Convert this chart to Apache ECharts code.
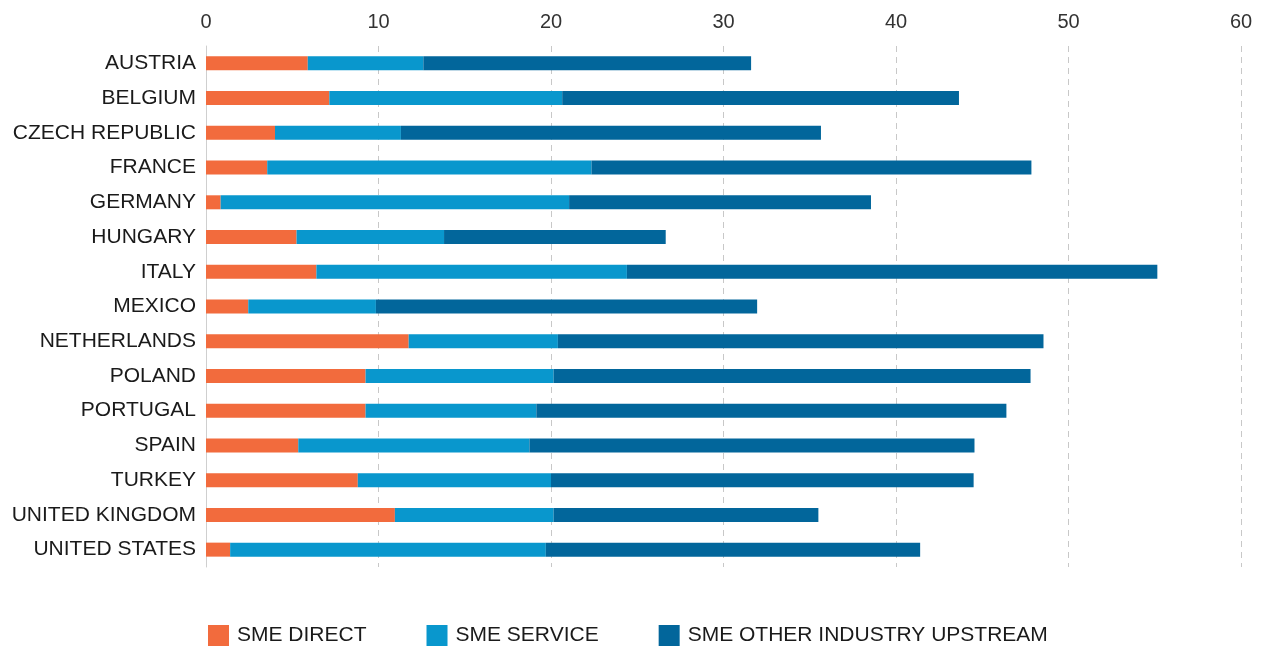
<!DOCTYPE html>
<html>
<head>
<meta charset="utf-8">
<script src="https://cdn.jsdelivr.net/npm/echarts@6/dist/echarts.min.js"></script>
<style>html,body{margin:0;padding:0;background:#fff}#c{width:1263px;height:648px}</style>
</head>
<body>
<div id="c"></div>
<script>
var categories = ["AUSTRIA","BELGIUM","CZECH REPUBLIC","FRANCE","GERMANY","HUNGARY","ITALY","MEXICO","NETHERLANDS","POLAND","PORTUGAL","SPAIN","TURKEY","UNITED KINGDOM","UNITED STATES"];
var smeDirect   = [5.9, 7.15, 4.0, 3.55, 0.85, 5.25, 6.4, 2.45, 11.75, 9.25, 9.25, 5.35, 8.8, 10.95, 1.4];
var smeService  = [6.7, 13.5, 7.3, 18.8, 20.2, 8.55, 18.0, 7.4, 8.65, 10.9, 9.9, 13.4, 11.2, 9.2, 18.3];
var smeUpstream = [19.0, 23.0, 24.35, 25.5, 17.5, 12.85, 30.75, 22.1, 28.15, 27.65, 27.25, 25.8, 24.5, 15.35, 21.7];
var xTicks = [0, 10, 20, 30, 40, 50, 60];
var seriesNames = ["SME DIRECT", "SME SERVICE", "SME OTHER INDUSTRY UPSTREAM"];

var chart = echarts.init(document.getElementById('c'), null, {renderer: 'canvas'});
var font = '"Liberation Sans", Arial, sans-serif';
function mk(name, data, color) {
  return {name: name, type: 'bar', stack: 'total', data: data, barWidth: 14,
    itemStyle: {color: color}, emphasis: {disabled: true}};
}
chart.setOption({
  animation: false,
  textStyle: {fontFamily: font},
  grid: {left: 206, right: 22, top: 46, bottom: 81, containLabel: false},
  xAxis: {
    type: 'value', position: 'top', min: xTicks[0], max: xTicks[xTicks.length - 1], interval: 10,
    axisLine: {show: false}, axisTick: {show: false},
    axisLabel: {fontSize: 20, color: '#333', margin: 14, fontFamily: font},
    splitLine: {show: true, lineStyle: {color: '#c8c8c8', type: [6, 5], width: 1}}
  },
  yAxis: {
    type: 'category', data: categories, inverse: true,
    axisLine: {show: true, lineStyle: {color: '#cfcfcf', width: 1}},
    axisTick: {show: false},
    axisLabel: {fontSize: 21, color: '#1a1a1a', margin: 10, fontFamily: font, padding: [4, 0, 0, 0]}
  },
  legend: {
    top: 625, left: 208, itemWidth: 21, itemHeight: 21, itemGap: 60,
    icon: 'rect', padding: 0,
    textStyle: {fontSize: 21, color: '#1a1a1a', fontFamily: font, padding: [0, 0, 0, 3]},
    data: seriesNames
  },
  series: [
    mk(seriesNames[0], smeDirect, '#f26b3d'),
    mk(seriesNames[1], smeService, '#0997cd'),
    mk(seriesNames[2], smeUpstream, '#02669b')
  ]
});
</script>
</body>
</html>
